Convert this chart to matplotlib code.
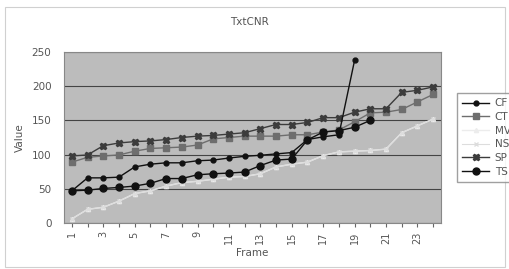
import matplotlib
matplotlib.use('Agg')
import matplotlib.pyplot as plt
from matplotlib.patches import Rectangle

frames = list(range(1, 25))
cf = [47, 66, 66, 67, 82, 86, 88, 88, 91, 92, 95, 97.5, 99, 101, 103, 122, 126, 129, 238]
ct = [89, 96, 98, 99.5, 105, 109, 110, 111, 114, 123, 125, 127, 127, 127, 129, 129, 133, 136, 148, 161, 162, 166, 177, 188]
mv = [6, 20, 23, 32, 43, 47, 54, 59, 61, 64, 67, 68, 72, 82, 86, 89, 98.5, 104, 105, 106, 108, 132, 142, 152]
ns = [6, 20, 23, 32, 43, 47, 54, 59, 61, 64, 67, 68, 72, 82, 86, 89, 98.5, 104, 105, 106, 108, 132, 142, 152]
sp = [98, 99.5, 113, 117, 119, 120, 122, 125, 127, 128, 130, 132, 138, 144, 144, 147, 154, 154, 162, 167, 167, 191, 194, 199]
ts = [47, 48, 50.5, 52, 54, 58, 65, 65, 70.5, 72, 73, 74.5, 84, 92, 93.5, 121.5, 133, 135, 140, 150]

fig = plt.figure(figsize=(5.10, 2.69), dpi=100)
fig.patch.set_facecolor('white')
fig.patches.append(Rectangle((5/510, 2/269), 500/510, 260/269, transform=fig.transFigure,
                             fill=False, edgecolor='#d0d0d0', linewidth=0.8))

ax = fig.add_axes([64/510, 1 - 223/269, 377/510, 171/269])
ax.set_facecolor('#bcbcbc')

x = list(range(len(frames)))
ax.plot(x[:len(mv)], mv, color='#ececec', marker='^', markersize=3, lw=1, label='MV')
ax.plot(x[:len(ns)], ns, color='#dddddd', marker='x', markersize=3, lw=0.8, label='NS')
ax.plot(x[:len(ct)], ct, color='#6e6e6e', marker='s', markersize=4.5, lw=1, label='CT')
ax.plot(x[:len(sp)], sp, color='#3c3c3c', marker='X', markersize=4.5, lw=1, label='SP')
ax.plot(x[:len(cf)], cf, color='#111111', marker='o', markersize=3.5, lw=1, label='CF')
ax.plot(x[:len(ts)], ts, color='#111111', marker='o', markersize=5, lw=1, label='TS')

ax.set_xlim(-0.5, len(frames) - 0.5)
ax.set_ylim(0, 250)
ax.set_yticks([0, 50, 100, 150, 200, 250])
ax.yaxis.grid(True, color='#444444', lw=0.8)
ax.set_axisbelow(True)
ax.set_xticks(x)
ax.set_xticklabels([str(f) if f % 2 == 1 else '' for f in frames], rotation=90, fontsize=7, color='#555555')
ax.tick_params(axis='y', labelsize=7.5, colors='#555555', length=0, pad=9)
ax.tick_params(axis='x', length=3, color='#666666', pad=3)
for s in ax.spines.values():
    s.set_color('#888888')
    s.set_linewidth(0.8)

ax.set_xlabel('Frame', fontsize=7.5, color='#555555', labelpad=3)
ax.set_ylabel('Value', fontsize=7.5, color='#555555', labelpad=5)
fig.text(0.49, 1 - 22/269, 'TxtCNR', ha='center', va='center', fontsize=7.5, color='#555555')

h, l = ax.get_legend_handles_labels()
order = ['CF', 'CT', 'MV', 'NS', 'SP', 'TS']
hs = [h[l.index(k)] for k in order]
leg = fig.legend(hs, order, loc='upper left', bbox_to_anchor=(452/510, 1 - 88/269),
                 fontsize=7.5, frameon=True, fancybox=False, edgecolor='#888888',
                 handlelength=2.6, handletextpad=0.5, borderpad=0.5, labelspacing=0.35)
for t in leg.get_texts():
    t.set_color('#555555')

fig.savefig('out.png', dpi=100)
